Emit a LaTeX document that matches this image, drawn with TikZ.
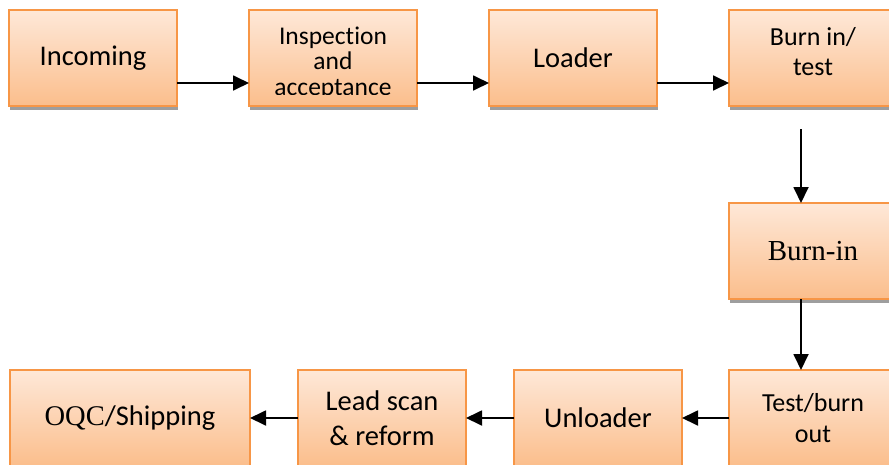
\documentclass[tikz,border=0pt]{standalone}
\usepackage{fontspec}
\setmainfont{Carlito}[Ligatures=NoCommon]
\newfontfamily\timesfont{Liberation Serif}
\usepackage{tikz}
\usetikzlibrary{arrows.meta,positioning,shadows}
\definecolor{stagetop}{HTML}{FEE8D8}
\definecolor{stagebottom}{HTML}{FBBE8C}
\definecolor{stageedge}{HTML}{F79646}
\tikzset{>={Triangle[length=16pt,width=15pt]},
	stage/.style={% orange process boxes
		draw=stageedge, line width=1.5pt,
		rectangle,
		top color=stagetop, bottom color=stagebottom,
		general shadow={fill=black!38, shadow xshift=1pt, shadow yshift=-4pt},
		minimum width=168pt,
		minimum height=96pt,
		inner sep=0pt,
		outer sep=0pt,
		align=center,
		font=\fontsize{28.5}{35}\selectfont
	},
	stagetext/.style={align=center, inner sep=0pt, anchor=center},
	flow/.style={->, line width=1.8pt}
}

\begin{document}
\begin{tikzpicture}[node distance=72pt]
		\useasboundingbox (0,0) rectangle (889pt,-464pt);
		% top row, left to right
		\node[stage, anchor=north west] (incoming) at (9pt,-10pt) {Incoming};
		\node[stage, right=of incoming,
			path picture={% text runs over the lower margin and gets cut
				\clip ([yshift=12pt]path picture bounding box.south west) rectangle (path picture bounding box.north east);
				\node[stagetext, font=\fontsize{25.5}{25.5}\selectfont, yshift=-5pt] (inspectiontext)
				at (path picture bounding box.center) {Inspection\\and\\acceptance};
			}] (inspection) {};
		\node[stage, right=of inspection] (loader) {Loader};
		\node[stage, right=of loader,
			label={[stagetext, font=\fontsize{26}{30}\selectfont, yshift=6pt]center:Burn in/\\test}] (burntest) {};
		% right column
		\node[stage, below=97pt of burntest, font=\fontsize{29}{35}\timesfont] (burnin) {Burn-in};
		\node[stage, below=71pt of burnin, font=\fontsize{26}{31}\selectfont] (testout) {Test/burn\\out};
		% bottom row, right to left
		\node[stage, left=47pt of testout] (unloader) {Unloader};
		\node[stage, left=48pt of unloader] (leadscan) {Lead scan\\\& reform};
		\node[stage, left=48pt of leadscan, minimum width=240pt] (oqc) {{\timesfont OQC}/Shipping};
		
		\draw[flow] ([yshift=-25pt]incoming.east) -- ([yshift=-25pt]inspection.west);
		\draw[flow] ([yshift=-25pt]inspection.east) -- ([yshift=-25pt]loader.west);
		\draw[flow] ([yshift=-25pt]loader.east) -- ([yshift=-25pt]burntest.west);
		\draw[flow, shorten <=23pt] ([xshift=-12pt]burntest.south) -- ([xshift=-12pt]burnin.north);
		\draw[flow] ([xshift=-12pt]burnin.south) -- ([xshift=-12pt]testout.north);
		\draw[flow] (testout) -- (unloader);
		\draw[flow] (unloader) -- (leadscan);
		\draw[flow] (leadscan) -- (oqc);
	\end{tikzpicture}
\end{document}
